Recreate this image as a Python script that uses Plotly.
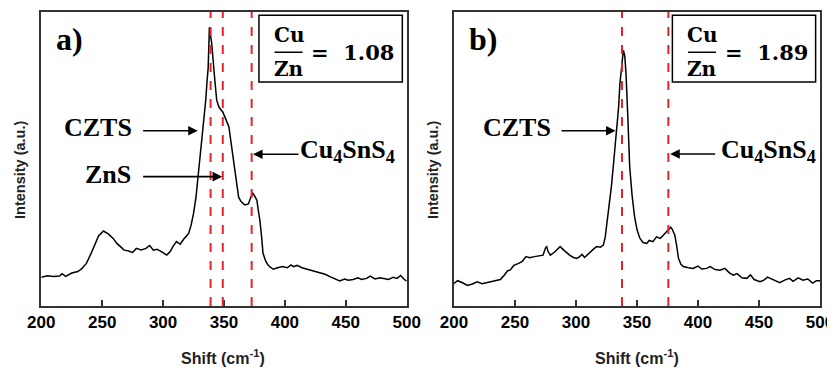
import plotly.graph_objects as go

# ---- data ----
shift_a = [200, 205, 210, 215, 217, 220, 225, 230, 233, 237, 241, 244, 247, 251, 255, 259, 262, 265, 268, 271,
           275, 278, 282, 286, 289, 292, 295, 299, 303, 306, 308, 311, 314, 317, 321, 323, 325, 327, 329, 331,
           333, 335, 336, 337, 338, 339, 340, 342, 344, 346, 347.5, 349, 350, 352, 354, 356, 358, 360, 362, 364,
           367, 370, 372, 373.5, 375, 377, 378, 379.5, 381, 382, 384, 386, 388, 390.5, 394, 398, 402, 405, 407,
           410, 414, 418, 422, 426, 429, 433, 437, 440, 443, 445, 449, 452, 456, 460, 463, 467, 470, 474, 478,
           481, 485, 489, 492, 495, 498, 500]
int_a = [9.8, 10.3, 10.0, 10.2, 11.0, 10.1, 11.2, 11.7, 12.6, 14.5, 18.0, 20.7, 23.8, 25.5, 24.5, 23.0, 21.3, 20.2, 19.0, 18.8,
         18.2, 19.6, 19.1, 19.6, 20.6, 19.0, 19.3, 18.4, 17.3, 18.6, 20.2, 21.9, 21.0, 22.8, 24.7, 27.5, 31.5, 37.0, 45.0, 53.0,
         61.0, 70.0, 76.0, 81.0, 94.8, 92.0, 89.0, 79.0, 70.0, 67.5, 66.7, 66.0, 65.0, 63.0, 61.0, 55.0, 49.7, 43.0, 37.0, 35.5,
         34.4, 34.7, 37.0, 38.5, 37.5, 36.0, 33.0, 29.0, 23.0, 18.0, 15.5, 14.0, 13.2, 12.5, 13.0, 13.4, 13.0, 14.0, 13.4,
         13.8, 13.0, 12.5, 12.0, 11.5, 11.1, 10.8, 10.0, 9.4, 9.0, 8.5, 9.2, 8.8, 9.0, 9.6, 9.0, 9.4, 10.2, 9.2, 9.6,
         9.4, 9.0, 9.8, 9.4, 10.4, 9.0, 8.5]

shift_b = [200, 203, 207, 211, 215, 219, 223, 227, 231, 235, 238, 241, 244, 246, 249, 253, 256, 259, 262, 266,
           270, 273, 275, 276, 277, 279, 282, 285, 287, 290, 293, 295, 298, 300.5, 303, 305, 307, 309, 312, 315,
           317, 320, 322.4, 324, 325, 327, 329, 331, 333, 335, 336, 337.5, 338.8, 340, 341, 342.5, 344, 346, 348, 350,
           352.4, 355, 358, 360, 363, 366, 369, 371, 374, 376, 377.6, 379, 381, 382.5, 384, 386, 388, 392, 396, 400,
           403, 407, 410, 414, 418, 422, 426, 429, 432, 436, 440, 443, 446, 450.8, 454, 457, 459, 463, 467, 471,
           475, 478, 482, 486, 490, 494, 497, 500]
int_b = [7.7, 8.6, 7.9, 7.0, 7.5, 8.2, 7.6, 8.0, 8.4, 8.8, 9.0, 10.4, 12.0, 12.2, 13.8, 14.5, 15.2, 16.8, 16.4, 16.8,
         17.1, 17.3, 19.8, 20.2, 18.6, 17.3, 18.2, 19.5, 20.2, 19.0, 17.9, 17.2, 16.5, 16.2, 16.8, 17.6, 16.5, 17.3, 18.6, 19.6,
         20.2, 20.0, 20.7, 23.5, 27.0, 33.0, 40.6, 49.5, 58.7, 68.0, 75.7, 82.0, 87.0, 85.0, 79.0, 64.0, 47.4, 37.5, 30.4, 26.0,
         23.0, 21.6, 21.3, 22.3, 21.9, 23.5, 23.0, 23.8, 25.3, 26.0, 26.8, 26.0, 24.1, 20.5, 16.2, 14.2, 13.4, 13.0, 12.8, 13.6,
         12.6, 12.8, 13.4, 12.4, 12.2, 12.8, 11.2, 10.5, 11.0, 9.6, 9.4, 10.6, 9.0, 8.3, 8.8, 9.8, 9.4, 8.6, 7.9, 8.8,
         9.4, 8.4, 9.6, 8.8, 9.2, 7.8, 8.6, 8.6]

peaks_a = [339, 349, 372.7]
peaks_b = [337.7, 375.7]
ratio_a = "1.08"
ratio_b = "1.89"
x_ticks = [200, 250, 300, 350, 400, 450, 500]

RED = "#e8202a"
SERIF = "Liberation Serif"
MATH = "DejaVu Serif"
SANS = "Liberation Sans"
OFF = 8                      # page body margin of the html page
W, H = 835 - OFF, 368 - OFF


def px(x):
    return (x - OFF) / W


def py(y):
    return 1 - (y - OFF) / H


fig = go.Figure()
fig.add_trace(go.Scatter(x=shift_a, y=int_a, mode="lines", line=dict(color="black", width=1.5),
                         xaxis="x", yaxis="y", showlegend=False))
fig.add_trace(go.Scatter(x=shift_b, y=int_b, mode="lines", line=dict(color="black", width=1.5),
                         xaxis="x2", yaxis="y2", showlegend=False))

shapes = []
annotations = []


def panel(xr, yr, peaks, ratio, label, arrows, box_x, xtitle_px, ytitle_px):
    for p in peaks:
        shapes.append(dict(type="line", xref=xr, yref=yr + " domain", x0=p, x1=p, y0=0, y1=1,
                           line=dict(color=RED, width=2, dash="dash")))
    # ratio box
    shapes.append(dict(type="rect", xref=xr, yref=yr, x0=box_x[0], x1=box_x[1], y0=76.2, y1=98.9,
                       line=dict(color="black", width=1.5), fillcolor="white"))
    cx = box_x[0] + 24.3
    shapes.append(dict(type="line", xref=xr, yref=yr, x0=cx - 11.5, x1=cx + 11.5, y0=86.3, y1=86.3,
                       line=dict(color="black", width=1.5)))
    annotations.append(dict(xref=xr, yref=yr, x=cx, y=92.2, text="<b>Cu</b>", showarrow=False,
                            xanchor="center", yanchor="middle",
                            font=dict(family=MATH, size=20, color="black")))
    annotations.append(dict(xref=xr, yref=yr, x=cx, y=80.6, text="<b>Zn</b>", showarrow=False,
                            xanchor="center", yanchor="middle",
                            font=dict(family=MATH, size=20, color="black")))
    annotations.append(dict(xref=xr, yref=yr, x=cx + 17.0, y=86.3, text="<b>=  " + ratio + "</b>", showarrow=False,
                            xanchor="left", yanchor="middle", font=dict(family=MATH, size=21, color="black")))
    annotations.append(dict(xref=xr, yref=yr, x=box_x[0] - 168.5, y=90.7, text="<b>" + label + "</b>", showarrow=False,
                            xanchor="left", yanchor="middle", font=dict(family=SERIF, size=32, color="black")))
    for (txt, tx, anchor, ty, x_tail, x_head, ay) in arrows:
        annotations.append(dict(xref=xr, yref=yr, x=tx, y=ty, text="<b>" + txt + "</b>", showarrow=False,
                                xanchor=anchor, yanchor="middle", font=dict(family=SERIF, size=26, color="black")))
        annotations.append(dict(xref=xr, yref=yr, axref=xr, ayref=yr, x=x_head, y=ay, ax=x_tail, ay=ay,
                                text="", showarrow=True, arrowhead=2, arrowsize=1.2, arrowwidth=1.6,
                                arrowcolor="black"))
    annotations.append(dict(xref="paper", yref="paper", x=px(xtitle_px), y=py(357),
                            xanchor="center", yanchor="middle",
                            text="<b>Shift (cm<sup>-1</sup>)</b>", showarrow=False,
                            font=dict(family=SANS, size=16, color="#222")))
    annotations.append(dict(xref="paper", yref="paper", x=px(ytitle_px), y=py(170), textangle=-90,
                            xanchor="center", yanchor="middle",
                            text="<b>Intensity (a.u.)</b>", showarrow=False,
                            font=dict(family=SANS, size=14.5, color="#222")))


panel("x", "y", peaks_a, ratio_a, "a)",
      [("CZTS", 276, "right", 60.6, 282.4, 328.5, 59.6),
       ("ZnS", 275, "right", 44.8, 282.4, 348.5, 44.0),
       ("Cu<sub>4</sub>SnS<sub>4</sub>", 410.5, "left", 52.6, 412.4, 373.8, 51.6)],
      (378.7, 496.4), 223, 20)
panel("x2", "y2", peaks_b, ratio_b, "b)",
      [("CZTS", 281.4, "right", 60.6, 286.9, 332.5, 59.6),
       ("Cu<sub>4</sub>SnS<sub>4</sub>", 417.5, "left", 52.6, 415.3, 377.2, 51.7)],
      (379.0, 496.4), 637, 433)

xcommon = dict(range=[200, 500], tickvals=x_ticks, ticks="inside", ticklen=6, tickwidth=1.5, tickcolor="#333",
               showline=True, linecolor="#333", linewidth=1.5, mirror=True, showgrid=False, zeroline=False,
               automargin=False,
               tickfont=dict(family=SANS, size=17, color="black", weight="bold"))
ycommon = dict(range=[0, 100], showticklabels=False, ticks="", showline=True, linecolor="#333", linewidth=1.5,
               mirror=True, showgrid=False, zeroline=False, automargin=False)

fig.update_layout(
    width=W, height=H, margin=dict(l=0, r=0, t=0, b=0, autoexpand=False),
    paper_bgcolor="white", plot_bgcolor="white",
    xaxis=dict(domain=[px(41.3), px(406.7)], anchor="y", **xcommon),
    yaxis=dict(domain=[py(306), py(12)], anchor="x", **ycommon),
    xaxis2=dict(domain=[px(454), px(820)], anchor="y2", **xcommon),
    yaxis2=dict(domain=[py(306), py(12)], anchor="x2", **ycommon),
    shapes=shapes, annotations=annotations, showlegend=False,
)

fig.write_html("out.html")
